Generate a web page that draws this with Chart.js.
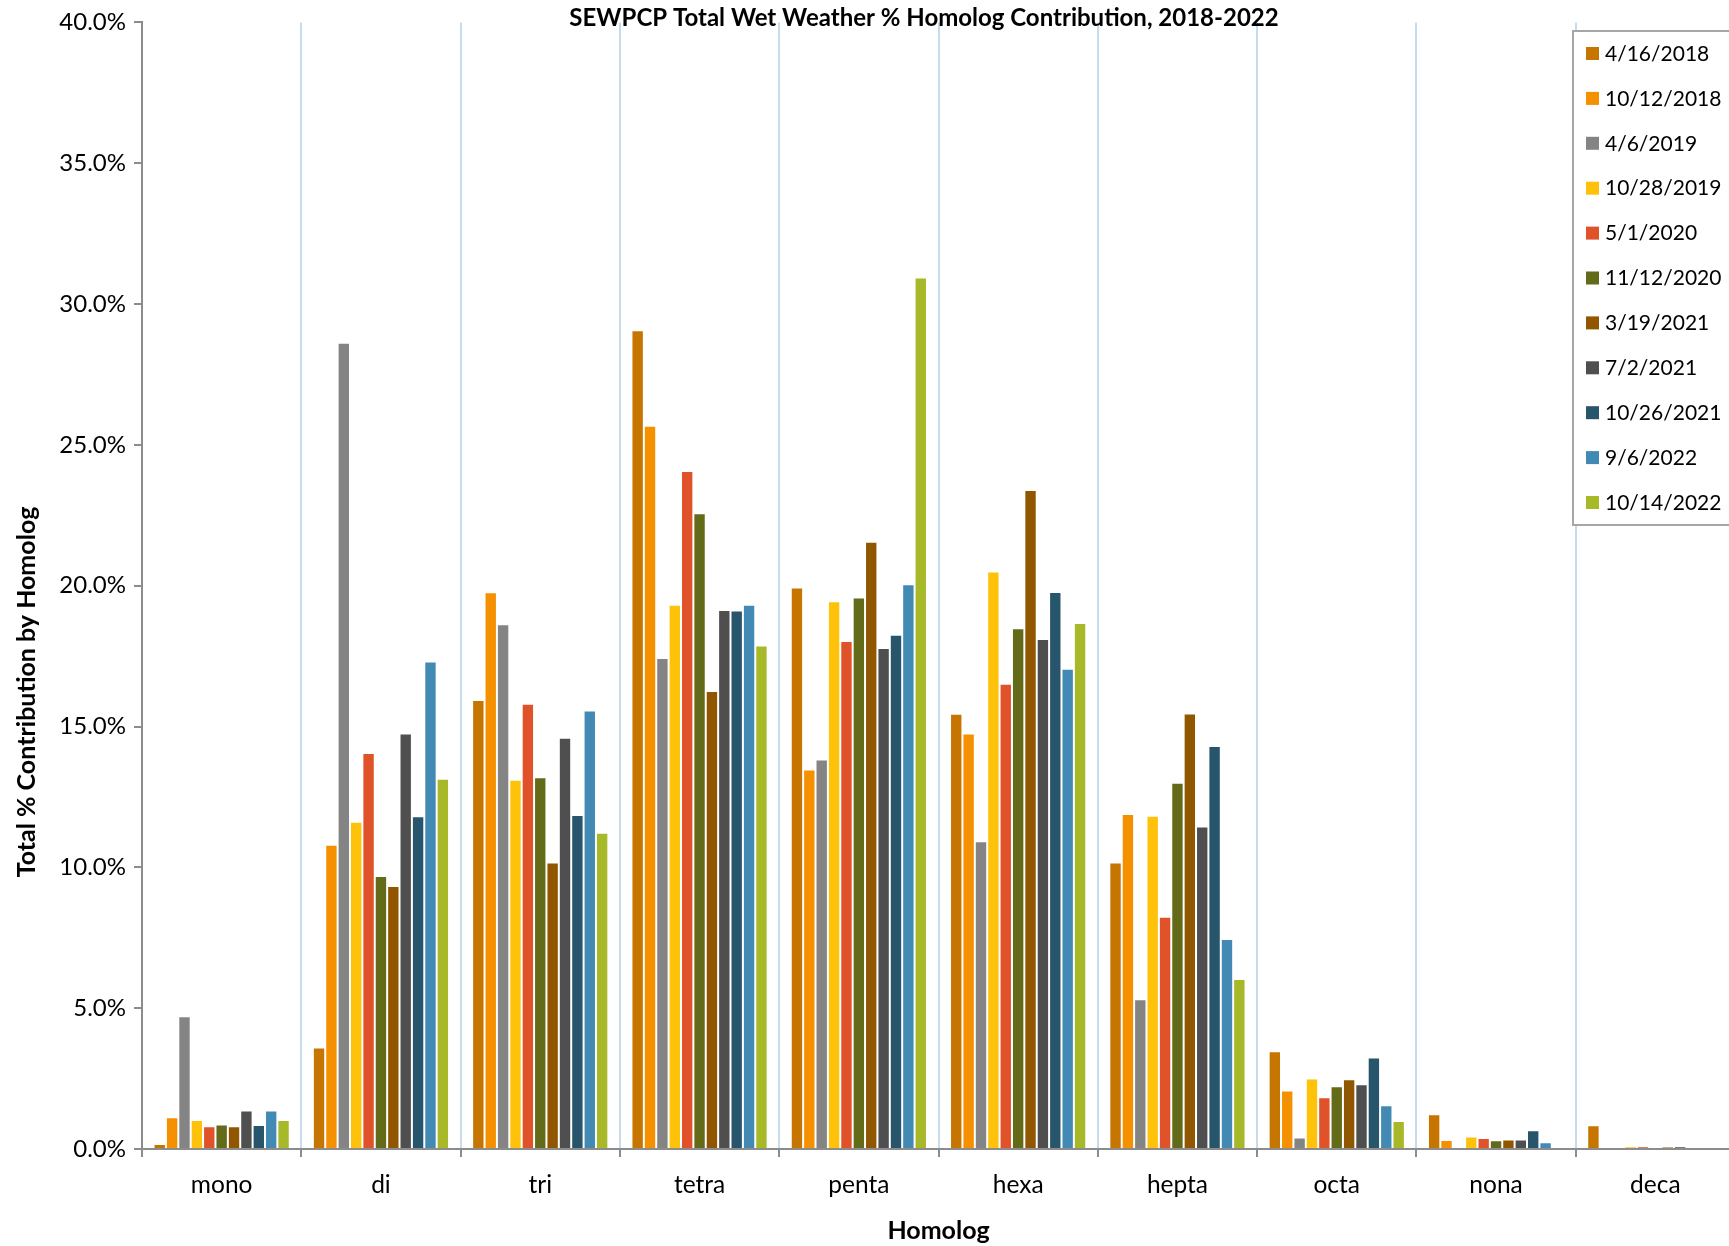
<!DOCTYPE html>
<html>
<head>
<meta charset="utf-8">
<script src="https://cdn.jsdelivr.net/npm/chart.js@4.4.1/dist/chart.umd.min.js"></script>
<style>
  html, body { margin: 0; padding: 0; background: #fff; overflow: hidden; }
  #wrap { width: 1736px; height: 1246px; }
</style>
</head>
<body>
<div id="wrap"><canvas id="chart" width="1736" height="1246"></canvas></div>
<script>
// categories and tick labels
const homologs = ['mono', 'di', 'tri', 'tetra', 'penta', 'hexa', 'hepta', 'octa', 'nona', 'deca'];
const yTicks = [0, 5, 10, 15, 20, 25, 30, 35, 40];

// % contribution per homolog, one array per sampling date
const d_4_16_2018  = [0.18, 3.60, 15.94, 29.07, 19.94, 15.45, 10.17, 3.47, 1.23, 0.84];
const d_10_12_2018 = [1.13, 10.80, 19.77, 25.68, 13.47, 14.75, 11.89, 2.08, 0.32, 0];
const d_4_6_2019   = [4.71, 28.63, 18.63, 17.43, 13.83, 10.93, 5.32, 0.41, 0, 0];
const d_10_28_2019 = [1.03, 11.62, 13.11, 19.32, 19.45, 20.50, 11.83, 2.50, 0.44, 0.08];
const d_5_1_2020   = [0.81, 14.06, 15.81, 24.07, 18.04, 16.52, 8.25, 1.84, 0.39, 0.08];
const d_11_12_2020 = [0.87, 9.69, 13.20, 22.57, 19.58, 18.49, 13.00, 2.23, 0.31, 0];
const d_3_19_2021  = [0.81, 9.34, 10.17, 16.26, 21.56, 23.40, 15.46, 2.48, 0.34, 0.07];
const d_7_2_2021   = [1.37, 14.75, 14.60, 19.14, 17.79, 18.11, 11.45, 2.30, 0.34, 0.09];
const d_10_26_2021 = [0.85, 11.81, 11.86, 19.12, 18.26, 19.78, 14.31, 3.25, 0.67, 0];
const d_9_6_2022   = [1.37, 17.31, 15.57, 19.32, 20.05, 17.05, 7.46, 1.55, 0.24, 0];
const d_10_14_2022 = [1.03, 13.15, 11.23, 17.88, 30.94, 18.68, 6.04, 0.99, 0, 0];

const dateLabels = ['4/16/2018', '10/12/2018', '4/6/2019', '10/28/2019', '5/1/2020', '11/12/2020',
                    '3/19/2021', '7/2/2021', '10/26/2021', '9/6/2022', '10/14/2022'];
const series = [d_4_16_2018, d_10_12_2018, d_4_6_2019, d_10_28_2019, d_5_1_2020, d_11_12_2020,
                d_3_19_2021, d_7_2_2021, d_10_26_2021, d_9_6_2022, d_10_14_2022];
const colors = ['#c67500', '#f59100', '#848484', '#fec20a', '#e0532a', '#636b19',
                '#915700', '#4f4f4f', '#26556c', '#428ab4', '#a7b828'];

const FONT = 'Lato, "Liberation Sans", sans-serif';
const axisGray = '#8c8c8c';

// chart title and y axis title, placed where the original puts them
const titlePlugin = {
    id: 'topTitle',
    afterDraw(chart) {
        const ctx = chart.ctx;
        ctx.save();
        ctx.font = 'bold 24px ' + FONT;
        ctx.fillStyle = '#000';
        ctx.textAlign = 'center';
        ctx.textBaseline = 'middle';
        ctx.fillText('SEWPCP Total Wet Weather % Homolog Contribution, 2018-2022', 924, 18);

        ctx.translate(27, 692);
        ctx.rotate(-Math.PI / 2);
        ctx.font = 'bold 25px ' + FONT;
        ctx.fillText('Total % Contribution by Homolog', 0, 0);
        ctx.restore();
    }
};

// boxed legend sitting inside the plot, top right
const legendPlugin = {
    id: 'boxLegend',
    afterDraw(chart) {
        const ctx = chart.ctx;
        ctx.save();
        ctx.fillStyle = '#fff';
        ctx.fillRect(1573, 31, 200, 494);
        ctx.strokeStyle = '#a6a6a6';
        ctx.lineWidth = 2;
        ctx.strokeRect(1573, 31, 200, 494);
        ctx.font = '21px ' + FONT;
        ctx.textBaseline = 'middle';
        chart.data.datasets.forEach((ds, i) => {
            const y = 53 + i * 44.9;
            ctx.fillStyle = ds.backgroundColor;
            ctx.fillRect(1586, y - 6, 13, 13);
            ctx.fillStyle = '#000';
            ctx.fillText(ds.label, 1605, y + 1);
        });
        ctx.restore();
    }
};

new Chart(document.getElementById('chart'), {
    type: 'bar',
    data: {
        labels: homologs,
        datasets: series.map((vals, i) => ({
            label: dateLabels[i],
            data: vals,
            backgroundColor: colors[i],
            borderColor: 'rgba(255,255,255,0.35)',
            borderWidth: 1,
            barPercentage: 1.0,
            categoryPercentage: 0.855
        }))
    },
    options: {
        responsive: false,
        animation: false,
        layout: { padding: { top: 20, right: 1, bottom: 0, left: 0 } },
        plugins: {
            legend: { display: false },
            title: { display: false },
            tooltip: { enabled: false }
        },
        scales: {
            x: {
                offset: true,
                grid: {
                    offset: true,
                    color: '#c6dced',
                    lineWidth: 2,
                    tickColor: axisGray,
                    tickLength: 8
                },
                border: { color: axisGray, width: 2 },
                ticks: { color: '#000', font: { family: FONT, size: 24.5 }, padding: 13 },
                title: {
                    display: true,
                    text: 'Homolog',
                    color: '#000',
                    font: { family: FONT, size: 25, weight: 'bold' },
                    padding: { top: 0, bottom: 0 }
                },
                afterFit(scale) { scale.height = 97; }
            },
            y: {
                min: 0,
                max: 40,
                afterBuildTicks(scale) { scale.ticks = yTicks.map(v => ({ value: v })); },
                grid: {
                    drawOnChartArea: false,
                    tickColor: axisGray,
                    tickLength: 8,
                    lineWidth: 2
                },
                border: { color: axisGray, width: 2 },
                ticks: {
                    color: '#000',
                    font: { family: FONT, size: 24 },
                    padding: 8,
                    callback: v => v.toFixed(1) + '%'
                },
                afterFit(scale) { scale.width = 142; }
            }
        }
    },
    plugins: [titlePlugin, legendPlugin]
});
</script>
</body>
</html>
